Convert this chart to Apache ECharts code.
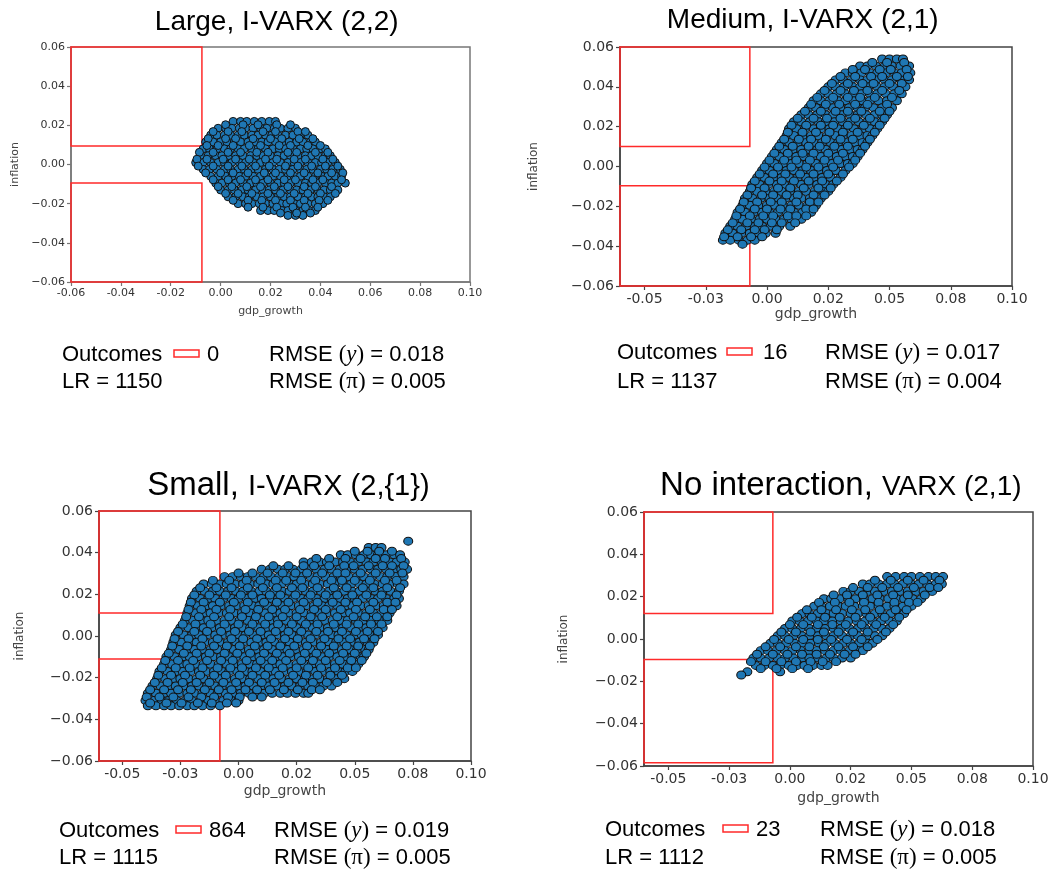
<!DOCTYPE html>
<html>
<head>
<meta charset="utf-8">
<script src="https://cdn.jsdelivr.net/npm/echarts@6/dist/echarts.min.js"></script>
<style>
  html, body { margin: 0; padding: 0; background: #fff; }
  #chart { width: 1054px; height: 873px; }
</style>
</head>
<body>
<div id="chart"></div>
<script>
// simulated outcomes: [inflation, [gdp_growth...]]
const largeRows = [
  [0.0220, [0.005, 0.008, 0.0105, 0.0135, 0.0165, 0.0195, 0.022]],
  [0.0185, [-0.001, 0.002, 0.0045, 0.0075, 0.010, 0.013, 0.016, 0.0185, 0.0215, 0.024, 0.027, 0.030]],
  [0.0150, [-0.004, -0.0015, 0.0015, 0.004, 0.007, 0.0095, 0.0125, 0.015, 0.018, 0.0205, 0.023, 0.026, 0.029, 0.032, 0.035]],
  [0.0115, [-0.006, -0.003, 0.000, 0.0025, 0.0055, 0.008, 0.011, 0.014, 0.0165, 0.019, 0.022, 0.025, 0.0275, 0.0305, 0.033, 0.036, 0.038]],
  [0.0080, [-0.007, -0.0045, -0.0015, 0.0015, 0.004, 0.007, 0.0095, 0.0125, 0.015, 0.018, 0.021, 0.0235, 0.026, 0.029, 0.032, 0.0345, 0.037, 0.040, 0.042]],
  [0.0045, [-0.008, -0.005, -0.002, 0.0005, 0.0035, 0.006, 0.009, 0.012, 0.0145, 0.017, 0.020, 0.023, 0.0255, 0.028, 0.031, 0.034, 0.0365, 0.039, 0.042, 0.044]],
  [0.0010, [-0.010, -0.007, -0.004, -0.001, 0.0015, 0.0045, 0.0075, 0.010, 0.013, 0.016, 0.0185, 0.021, 0.024, 0.027, 0.0295, 0.032, 0.035, 0.038, 0.0405, 0.043, 0.046]],
  [-0.0025, [-0.007, -0.0045, -0.0015, 0.0015, 0.004, 0.007, 0.0095, 0.0125, 0.015, 0.018, 0.021, 0.0235, 0.026, 0.029, 0.032, 0.0345, 0.037, 0.040, 0.0425, 0.045, 0.048]],
  [-0.0060, [-0.004, -0.001, 0.002, 0.0045, 0.0075, 0.010, 0.013, 0.016, 0.0185, 0.021, 0.024, 0.027, 0.0295, 0.032, 0.035, 0.038, 0.0405, 0.043, 0.046, 0.0485]],
  [-0.0095, [-0.002, 0.0005, 0.0035, 0.006, 0.009, 0.012, 0.0145, 0.017, 0.020, 0.023, 0.0255, 0.028, 0.031, 0.034, 0.0365, 0.039, 0.042, 0.0445, 0.047, 0.050]],
  [-0.0130, [0.000, 0.003, 0.0055, 0.0085, 0.011, 0.014, 0.017, 0.0195, 0.022, 0.025, 0.028, 0.0305, 0.033, 0.036, 0.039, 0.0415, 0.044, 0.047]],
  [-0.0165, [0.003, 0.006, 0.009, 0.0115, 0.0145, 0.017, 0.020, 0.023, 0.0255, 0.028, 0.031, 0.034, 0.0365, 0.039, 0.0415, 0.044]],
  [-0.0200, [0.007, 0.010, 0.0125, 0.0155, 0.018, 0.021, 0.024, 0.0265, 0.0295, 0.032, 0.035, 0.038, 0.041]],
  [-0.0235, [0.016, 0.019, 0.0215, 0.0245, 0.027, 0.030, 0.033, 0.0355, 0.038]],
  [-0.0260, [0.027, 0.030, 0.033]]
];
const largeRowsMid = [
  [0.0203, [0.002, 0.009, 0.015, 0.0225, 0.028]],
  [0.0168, [-0.003, 0.003, 0.0085, 0.017, 0.022, 0.031, 0.034]],
  [0.0132, [-0.005, 0.002, 0.006, 0.013, 0.020, 0.0245, 0.0315, 0.037]],
  [0.0097, [-0.0055, -0.001, 0.005, 0.0115, 0.016, 0.0235, 0.028, 0.035, 0.040]],
  [0.0062, [-0.0085, -0.003, 0.003, 0.008, 0.0145, 0.019, 0.027, 0.0305, 0.038, 0.043]],
  [0.0027, [-0.0095, -0.0055, 0.001, 0.006, 0.0115, 0.018, 0.0225, 0.0295, 0.034, 0.041, 0.045]],
  [-0.0008, [-0.009, -0.003, 0.003, 0.0085, 0.014, 0.0195, 0.026, 0.031, 0.0365, 0.042, 0.047]],
  [-0.0043, [-0.006, 0.000, 0.005, 0.011, 0.0175, 0.022, 0.028, 0.0335, 0.039, 0.0445, 0.049]],
  [-0.0078, [-0.003, 0.003, 0.008, 0.014, 0.019, 0.0255, 0.030, 0.037, 0.041, 0.0485]],
  [-0.0113, [-0.001, 0.0045, 0.0105, 0.016, 0.0215, 0.027, 0.0335, 0.038, 0.0445]],
  [-0.0148, [0.002, 0.007, 0.0125, 0.019, 0.024, 0.0295, 0.035, 0.040, 0.046]],
  [-0.0183, [0.005, 0.011, 0.0165, 0.022, 0.028, 0.0335, 0.0395, 0.043]],
  [-0.0218, [0.011, 0.017, 0.0225, 0.029, 0.034, 0.039]],
  [-0.0248, [0.024, 0.0305, 0.036]]
];

const mediumRows = [
  [0.0540, [0.047, 0.050, 0.053, 0.0555]],
  [0.0505, [0.038, 0.041, 0.0445, 0.048, 0.051, 0.0545, 0.058]],
  [0.0470, [0.032, 0.035, 0.0385, 0.042, 0.045, 0.0485, 0.052, 0.055, 0.0585]],
  [0.0435, [0.028, 0.031, 0.0345, 0.038, 0.041, 0.0445, 0.048, 0.051, 0.0545, 0.058]],
  [0.0400, [0.025, 0.028, 0.0315, 0.035, 0.038, 0.0415, 0.045, 0.048, 0.0515, 0.055, 0.0565]],
  [0.0365, [0.022, 0.025, 0.0285, 0.032, 0.035, 0.0385, 0.042, 0.045, 0.0485, 0.052, 0.055]],
  [0.0330, [0.019, 0.022, 0.0255, 0.029, 0.032, 0.0355, 0.039, 0.042, 0.0455, 0.049, 0.053]],
  [0.0295, [0.017, 0.020, 0.0235, 0.027, 0.030, 0.0335, 0.037, 0.040, 0.0435, 0.047, 0.051]],
  [0.0260, [0.014, 0.017, 0.0205, 0.024, 0.027, 0.0305, 0.034, 0.037, 0.0405, 0.044, 0.047, 0.049]],
  [0.0225, [0.011, 0.014, 0.0175, 0.021, 0.024, 0.0275, 0.031, 0.034, 0.0375, 0.041, 0.044, 0.047]],
  [0.0190, [0.009, 0.012, 0.0155, 0.019, 0.022, 0.0255, 0.029, 0.032, 0.0355, 0.039, 0.042, 0.045]],
  [0.0155, [0.008, 0.011, 0.0145, 0.018, 0.021, 0.0245, 0.028, 0.031, 0.0345, 0.038, 0.041, 0.043]],
  [0.0120, [0.006, 0.009, 0.0125, 0.016, 0.019, 0.0225, 0.026, 0.029, 0.0325, 0.036, 0.039, 0.041]],
  [0.0085, [0.004, 0.007, 0.0105, 0.014, 0.017, 0.0205, 0.024, 0.027, 0.0305, 0.034, 0.037, 0.039]],
  [0.0050, [0.002, 0.005, 0.0085, 0.012, 0.015, 0.0185, 0.022, 0.025, 0.0285, 0.032, 0.035, 0.037]],
  [0.0015, [0.000, 0.003, 0.0065, 0.010, 0.013, 0.0165, 0.020, 0.023, 0.0265, 0.030, 0.033, 0.035]],
  [-0.0020, [-0.002, 0.001, 0.0045, 0.008, 0.011, 0.0145, 0.018, 0.021, 0.0245, 0.028, 0.032]],
  [-0.0055, [-0.004, -0.001, 0.0025, 0.006, 0.009, 0.0125, 0.016, 0.019, 0.0225, 0.026, 0.030]],
  [-0.0090, [-0.006, -0.003, 0.0005, 0.004, 0.007, 0.0105, 0.014, 0.017, 0.0205, 0.024, 0.027]],
  [-0.0125, [-0.007, -0.004, -0.0005, 0.003, 0.006, 0.0095, 0.013, 0.016, 0.0195, 0.023, 0.025]],
  [-0.0160, [-0.009, -0.006, -0.0025, 0.001, 0.004, 0.0075, 0.011, 0.014, 0.0175, 0.022]],
  [-0.0195, [-0.010, -0.007, -0.0035, 0.000, 0.003, 0.0065, 0.010, 0.013, 0.0165, 0.020]],
  [-0.0230, [-0.012, -0.009, -0.0055, -0.002, 0.001, 0.0045, 0.008, 0.011, 0.0145, 0.018]],
  [-0.0265, [-0.013, -0.010, -0.0065, -0.003, 0.000, 0.0035, 0.007, 0.010, 0.014]],
  [-0.0300, [-0.015, -0.012, -0.0085, -0.005, -0.002, 0.0015, 0.005, 0.0095]],
  [-0.0335, [-0.017, -0.014, -0.0105, -0.007, -0.004, -0.0005, 0.0035]],
  [-0.0370, [-0.018, -0.015, -0.0115, -0.008, -0.005]],
  [-0.0390, [-0.010]]
];
const mediumRowsMid = [
  [0.0522, [0.043, 0.049, 0.056]],
  [0.0487, [0.035, 0.040, 0.046, 0.0505, 0.057]],
  [0.0452, [0.030, 0.036, 0.0425, 0.047, 0.053, 0.0575]],
  [0.0417, [0.0265, 0.033, 0.039, 0.0435, 0.050, 0.055]],
  [0.0382, [0.0235, 0.030, 0.0355, 0.041, 0.047, 0.054]],
  [0.0347, [0.0205, 0.027, 0.033, 0.038, 0.044, 0.051]],
  [0.0312, [0.018, 0.024, 0.0295, 0.036, 0.041, 0.049]],
  [0.0277, [0.0155, 0.022, 0.028, 0.033, 0.0385, 0.046, 0.050]],
  [0.0242, [0.0125, 0.019, 0.0245, 0.030, 0.036, 0.042, 0.048]],
  [0.0207, [0.010, 0.016, 0.022, 0.027, 0.033, 0.0395, 0.046]],
  [0.0172, [0.0085, 0.0145, 0.020, 0.0255, 0.031, 0.037, 0.044]],
  [0.0137, [0.007, 0.013, 0.018, 0.024, 0.030, 0.035, 0.042]],
  [0.0102, [0.005, 0.0105, 0.017, 0.0215, 0.0275, 0.033, 0.040]],
  [0.0067, [0.003, 0.0085, 0.0145, 0.019, 0.025, 0.031, 0.038]],
  [0.0032, [0.001, 0.007, 0.012, 0.0175, 0.0235, 0.029, 0.036]],
  [-0.0003, [-0.001, 0.0045, 0.010, 0.016, 0.021, 0.027, 0.0335]],
  [-0.0038, [-0.003, 0.0025, 0.0075, 0.0135, 0.019, 0.025, 0.031]],
  [-0.0073, [-0.005, 0.001, 0.006, 0.011, 0.017, 0.0225, 0.0285]],
  [-0.0108, [-0.0065, -0.001, 0.0045, 0.0095, 0.015, 0.021, 0.026]],
  [-0.0143, [-0.008, -0.002, 0.0025, 0.008, 0.0125, 0.019, 0.0235]],
  [-0.0178, [-0.0095, -0.004, 0.0015, 0.006, 0.012, 0.0175, 0.021]],
  [-0.0213, [-0.011, -0.005, 0.000, 0.0055, 0.0095, 0.016, 0.019]],
  [-0.0248, [-0.0125, -0.007, -0.0015, 0.0025, 0.0085, 0.012, 0.016]],
  [-0.0283, [-0.014, -0.008, -0.0035, 0.002, 0.006, 0.0115]],
  [-0.0318, [-0.016, -0.0105, -0.005, -0.001, 0.004]],
  [-0.0353, [-0.0175, -0.012, -0.0065, -0.002]]
];

const smallRows = [
  [0.0455, [0.073]],
  [0.0425, [0.056, 0.059, 0.0615]],
  [0.0390, [0.044, 0.047, 0.0505, 0.054, 0.057, 0.060, 0.0635, 0.067, 0.0695]],
  [0.0355, [0.028, 0.0315, 0.035, 0.038, 0.0415, 0.045, 0.048, 0.0515, 0.055, 0.058, 0.0615, 0.065, 0.068, 0.0715]],
  [0.0320, [0.010, 0.0135, 0.017, 0.020, 0.0235, 0.027, 0.030, 0.0335, 0.037, 0.040, 0.0435, 0.047, 0.050, 0.0535, 0.057, 0.060, 0.0635, 0.067, 0.070, 0.0725]],
  [0.0285, [-0.006, -0.0025, 0.001, 0.004, 0.0075, 0.011, 0.014, 0.0175, 0.021, 0.024, 0.0275, 0.031, 0.034, 0.0375, 0.041, 0.044, 0.0475, 0.051, 0.054, 0.0575, 0.061, 0.064, 0.0675, 0.071]],
  [0.0250, [-0.015, -0.0115, -0.008, -0.005, -0.0015, 0.002, 0.005, 0.0085, 0.012, 0.015, 0.0185, 0.022, 0.025, 0.0285, 0.032, 0.035, 0.0385, 0.042, 0.045, 0.0485, 0.052, 0.055, 0.0585, 0.062, 0.065, 0.0685, 0.071]],
  [0.0215, [-0.018, -0.0145, -0.011, -0.008, -0.0045, -0.001, 0.002, 0.0055, 0.009, 0.012, 0.0155, 0.019, 0.022, 0.0255, 0.029, 0.032, 0.0355, 0.039, 0.042, 0.0455, 0.049, 0.052, 0.0555, 0.059, 0.062, 0.0655, 0.069]],
  [0.0180, [-0.020, -0.0165, -0.013, -0.010, -0.0065, -0.003, 0.000, 0.0035, 0.007, 0.010, 0.0135, 0.017, 0.020, 0.0235, 0.027, 0.030, 0.0335, 0.037, 0.040, 0.0435, 0.047, 0.050, 0.0535, 0.057, 0.060, 0.0635, 0.067, 0.069]],
  [0.0145, [-0.021, -0.0175, -0.014, -0.011, -0.0075, -0.004, -0.001, 0.0025, 0.006, 0.009, 0.0125, 0.016, 0.019, 0.0225, 0.026, 0.029, 0.0325, 0.036, 0.039, 0.0425, 0.046, 0.049, 0.0525, 0.056, 0.059, 0.0625, 0.066, 0.068]],
  [0.0110, [-0.022, -0.0185, -0.015, -0.012, -0.0085, -0.005, -0.002, 0.0015, 0.005, 0.008, 0.0115, 0.015, 0.018, 0.0215, 0.025, 0.028, 0.0315, 0.035, 0.038, 0.0415, 0.045, 0.048, 0.0515, 0.055, 0.058, 0.0615, 0.065]],
  [0.0075, [-0.023, -0.0195, -0.016, -0.013, -0.0095, -0.006, -0.003, 0.0005, 0.004, 0.007, 0.0105, 0.014, 0.017, 0.0205, 0.024, 0.027, 0.0305, 0.034, 0.037, 0.0405, 0.044, 0.047, 0.0505, 0.054, 0.057, 0.0605, 0.064]],
  [0.0040, [-0.025, -0.0215, -0.018, -0.015, -0.0115, -0.008, -0.005, -0.0015, 0.002, 0.005, 0.0085, 0.012, 0.015, 0.0185, 0.022, 0.025, 0.0285, 0.032, 0.035, 0.0385, 0.042, 0.045, 0.0485, 0.052, 0.055, 0.0585, 0.062]],
  [0.0005, [-0.027, -0.0235, -0.020, -0.017, -0.0135, -0.010, -0.007, -0.0035, 0.000, 0.003, 0.0065, 0.010, 0.013, 0.0165, 0.020, 0.023, 0.0265, 0.030, 0.033, 0.0365, 0.040, 0.043, 0.0465, 0.050, 0.053, 0.0565, 0.060]],
  [-0.0030, [-0.028, -0.0245, -0.021, -0.018, -0.0145, -0.011, -0.008, -0.0045, -0.001, 0.002, 0.0055, 0.009, 0.012, 0.0155, 0.019, 0.022, 0.0255, 0.029, 0.032, 0.0355, 0.039, 0.042, 0.0455, 0.049, 0.052, 0.0555, 0.058]],
  [-0.0065, [-0.029, -0.0255, -0.022, -0.019, -0.0155, -0.012, -0.009, -0.0055, -0.002, 0.001, 0.0045, 0.008, 0.011, 0.0145, 0.018, 0.021, 0.0245, 0.028, 0.031, 0.0345, 0.038, 0.041, 0.0445, 0.048, 0.051, 0.0545, 0.056]],
  [-0.0100, [-0.031, -0.0275, -0.024, -0.021, -0.0175, -0.014, -0.011, -0.0075, -0.004, -0.001, 0.0025, 0.006, 0.009, 0.0125, 0.016, 0.019, 0.0225, 0.026, 0.029, 0.0325, 0.036, 0.039, 0.0425, 0.046, 0.049, 0.0525, 0.054]],
  [-0.0135, [-0.032, -0.0285, -0.025, -0.022, -0.0185, -0.015, -0.012, -0.0085, -0.005, -0.002, 0.0015, 0.005, 0.008, 0.0115, 0.015, 0.018, 0.0215, 0.025, 0.028, 0.0315, 0.035, 0.038, 0.0415, 0.045, 0.048, 0.0515]],
  [-0.0170, [-0.034, -0.0305, -0.027, -0.024, -0.0205, -0.017, -0.014, -0.0105, -0.007, -0.004, -0.0005, 0.003, 0.006, 0.0095, 0.013, 0.016, 0.0195, 0.023, 0.026, 0.0295, 0.033, 0.036, 0.0395, 0.043, 0.046, 0.049]],
  [-0.0205, [-0.035, -0.0315, -0.028, -0.025, -0.0215, -0.018, -0.015, -0.0115, -0.008, -0.005, -0.0015, 0.002, 0.005, 0.0085, 0.012, 0.015, 0.0185, 0.022, 0.025, 0.0285, 0.032, 0.035, 0.0385, 0.042, 0.0455]],
  [-0.0240, [-0.037, -0.0335, -0.030, -0.027, -0.0235, -0.020, -0.017, -0.0135, -0.010, -0.007, -0.0035, 0.000, 0.003, 0.0065, 0.010, 0.013, 0.0165, 0.020, 0.023, 0.0265, 0.030, 0.033, 0.0365, 0.040]],
  [-0.0275, [-0.039, -0.0355, -0.032, -0.029, -0.0255, -0.022, -0.019, -0.0155, -0.012, -0.009, -0.0055, -0.002, 0.001, 0.0045, 0.008, 0.011, 0.0145, 0.018, 0.021, 0.0245, 0.028, 0.030]],
  [-0.0310, [-0.040, -0.0365, -0.033, -0.030, -0.0265, -0.023, -0.020, -0.0165, -0.013, -0.010, -0.0065, -0.003, 0.000]],
  [-0.0335, [-0.039, -0.0355, -0.032, -0.029, -0.0255, -0.022, -0.019, -0.0155, -0.012, -0.008]]
];
const smallRowsMid = [
  [0.0407, [0.050, 0.0555, 0.0605, 0.066]],
  [0.0372, [0.0335, 0.039, 0.046, 0.0525, 0.059, 0.063, 0.070]],
  [0.0337, [0.015, 0.0215, 0.028, 0.0325, 0.039, 0.0455, 0.0495, 0.056, 0.062, 0.066, 0.071]],
  [0.0302, [0.000, 0.006, 0.0125, 0.019, 0.0245, 0.0295, 0.036, 0.0425, 0.046, 0.0525, 0.059, 0.065, 0.0705]],
  [0.0267, [-0.011, -0.004, 0.0035, 0.0095, 0.016, 0.0205, 0.027, 0.033, 0.040, 0.0445, 0.050, 0.0565, 0.063, 0.068]],
  [0.0232, [-0.0165, -0.0095, -0.003, 0.004, 0.0105, 0.0165, 0.023, 0.0275, 0.034, 0.041, 0.0465, 0.0535, 0.058, 0.064, 0.0695]],
  [0.0197, [-0.019, -0.0125, -0.0055, 0.001, 0.006, 0.0135, 0.018, 0.0245, 0.031, 0.0375, 0.0425, 0.049, 0.055, 0.0615, 0.068]],
  [0.0162, [-0.0205, -0.015, -0.008, -0.002, 0.004, 0.011, 0.0165, 0.0215, 0.028, 0.034, 0.0405, 0.046, 0.051, 0.058, 0.064, 0.0675]],
  [0.0127, [-0.0215, -0.016, -0.0095, -0.0035, 0.003, 0.0085, 0.0145, 0.020, 0.0265, 0.0325, 0.0375, 0.044, 0.0505, 0.0565, 0.0625, 0.066]],
  [0.0092, [-0.0225, -0.017, -0.0105, -0.004, 0.0015, 0.0075, 0.013, 0.019, 0.025, 0.031, 0.036, 0.0425, 0.0495, 0.0545, 0.0595, 0.064]],
  [0.0057, [-0.024, -0.0185, -0.012, -0.006, 0.000, 0.006, 0.0115, 0.017, 0.023, 0.029, 0.034, 0.041, 0.0465, 0.0515, 0.057, 0.0615]],
  [0.0022, [-0.026, -0.019, -0.0135, -0.0075, -0.0015, 0.0045, 0.0095, 0.016, 0.0215, 0.027, 0.0335, 0.0385, 0.0445, 0.0505, 0.0555, 0.060]],
  [-0.0013, [-0.0275, -0.0215, -0.0155, -0.009, -0.003, 0.002, 0.008, 0.014, 0.020, 0.0255, 0.031, 0.037, 0.043, 0.048, 0.054, 0.0585]],
  [-0.0048, [-0.0285, -0.022, -0.016, -0.0105, -0.005, 0.0005, 0.007, 0.0125, 0.018, 0.024, 0.0295, 0.0355, 0.041, 0.0465, 0.0515, 0.0565]],
  [-0.0083, [-0.030, -0.0235, -0.018, -0.0125, -0.006, -0.0005, 0.005, 0.011, 0.0165, 0.022, 0.0285, 0.0335, 0.039, 0.045, 0.050, 0.055]],
  [-0.0118, [-0.0315, -0.026, -0.0195, -0.0135, -0.0075, -0.0025, 0.0035, 0.0095, 0.0145, 0.0205, 0.027, 0.032, 0.0375, 0.0435, 0.0485, 0.053]],
  [-0.0153, [-0.033, -0.027, -0.021, -0.0155, -0.009, -0.0035, 0.0015, 0.0075, 0.013, 0.019, 0.025, 0.030, 0.0355, 0.0415, 0.047, 0.0505]],
  [-0.0188, [-0.0345, -0.029, -0.023, -0.0165, -0.0105, -0.0055, 0.0005, 0.006, 0.0115, 0.0175, 0.0235, 0.029, 0.034, 0.0395, 0.0445]],
  [-0.0223, [-0.036, -0.0305, -0.024, -0.018, -0.0125, -0.0065, -0.001, 0.0045, 0.010, 0.0155, 0.0215, 0.0275, 0.032, 0.038, 0.0425]],
  [-0.0258, [-0.038, -0.032, -0.026, -0.0205, -0.0145, -0.0085, -0.003, 0.003, 0.008, 0.0135, 0.0195, 0.0255, 0.0315, 0.035]],
  [-0.0293, [-0.0395, -0.034, -0.028, -0.0215, -0.016, -0.0105, -0.0045, 0.0005, 0.006, 0.010]],
  [-0.0322, [-0.038, -0.031, -0.0245, -0.0175, -0.0115, -0.005, -0.001]]
];

const noInteractionRows = [
  [0.0295, [0.040, 0.0435, 0.047, 0.050, 0.0535, 0.057, 0.060, 0.063]],
  [0.0260, [0.030, 0.033, 0.0365, 0.040, 0.043, 0.0465, 0.050, 0.053, 0.0565, 0.060, 0.0625]],
  [0.0225, [0.022, 0.025, 0.0285, 0.032, 0.035, 0.0385, 0.042, 0.045, 0.0485, 0.052, 0.055, 0.0585]],
  [0.0190, [0.014, 0.017, 0.0205, 0.024, 0.027, 0.0305, 0.034, 0.037, 0.0405, 0.044, 0.047, 0.0505, 0.054]],
  [0.0155, [0.010, 0.013, 0.0165, 0.020, 0.023, 0.0265, 0.030, 0.033, 0.0365, 0.040, 0.043, 0.0465, 0.050]],
  [0.0120, [0.005, 0.008, 0.0115, 0.015, 0.018, 0.0215, 0.025, 0.028, 0.0315, 0.035, 0.038, 0.0415, 0.045, 0.047]],
  [0.0085, [0.001, 0.004, 0.0075, 0.011, 0.014, 0.0175, 0.021, 0.024, 0.0275, 0.031, 0.034, 0.0375, 0.041, 0.044]],
  [0.0050, [-0.002, 0.001, 0.0045, 0.008, 0.011, 0.0145, 0.018, 0.021, 0.0245, 0.028, 0.031, 0.0345, 0.038, 0.041]],
  [0.0015, [-0.005, -0.002, 0.0015, 0.005, 0.008, 0.0115, 0.015, 0.018, 0.0215, 0.025, 0.028, 0.0315, 0.035, 0.038]],
  [-0.0020, [-0.008, -0.005, -0.0015, 0.002, 0.005, 0.0085, 0.012, 0.015, 0.0185, 0.022, 0.025, 0.0285, 0.032, 0.034]],
  [-0.0055, [-0.012, -0.009, -0.0055, -0.002, 0.001, 0.0045, 0.008, 0.011, 0.0145, 0.018, 0.021, 0.0245, 0.028, 0.030]],
  [-0.0090, [-0.015, -0.012, -0.0085, -0.005, -0.002, 0.0015, 0.005, 0.008, 0.0115, 0.015, 0.018, 0.0215, 0.025]],
  [-0.0125, [-0.014, -0.0105, -0.007, -0.004, -0.0005, 0.003, 0.006, 0.0095, 0.013, 0.0155]],
  [-0.0155, [-0.0175, -0.004]],
  [-0.0170, [-0.020]]
];
const noInteractionRowsMid = [
  [0.0278, [0.035, 0.0415, 0.0485, 0.055, 0.0615]],
  [0.0243, [0.026, 0.032, 0.038, 0.0445, 0.051, 0.0575, 0.061]],
  [0.0208, [0.018, 0.0235, 0.030, 0.036, 0.0425, 0.0485, 0.0555]],
  [0.0173, [0.012, 0.0185, 0.0245, 0.0305, 0.0365, 0.043, 0.049, 0.0525]],
  [0.0138, [0.007, 0.013, 0.019, 0.0255, 0.031, 0.037, 0.0435, 0.048]],
  [0.0103, [0.003, 0.009, 0.0145, 0.0205, 0.027, 0.033, 0.039, 0.045]],
  [0.0068, [0.000, 0.0055, 0.0115, 0.0175, 0.023, 0.0295, 0.0355, 0.0425]],
  [0.0033, [-0.0035, 0.0025, 0.0085, 0.014, 0.020, 0.026, 0.032, 0.0395]],
  [-0.0002, [-0.0065, -0.0005, 0.0055, 0.0115, 0.017, 0.0235, 0.0295, 0.036]],
  [-0.0037, [-0.010, -0.004, 0.0025, 0.008, 0.014, 0.020, 0.026, 0.032]],
  [-0.0072, [-0.0135, -0.007, -0.001, 0.005, 0.011, 0.0165, 0.0225, 0.027]],
  [-0.0107, [-0.016, -0.010, -0.0035, 0.0025, 0.0085, 0.0135, 0.019]],
  [-0.0140, [-0.012, -0.0055, 0.001, 0.0075]]
];

// threshold boxes drawn in red: [gdp from, inflation from, gdp to, inflation to]
const largeBoxes = [[-0.06, 0.0095, -0.0075, 0.06], [-0.06, -0.06, -0.0075, -0.0095]];
const mediumBoxes = [[-0.0605, 0.010, -0.007, 0.06], [-0.0605, -0.06, -0.007, -0.0097]];
const smallBoxes = [[-0.06, 0.011, -0.008, 0.06], [-0.06, -0.0605, -0.008, -0.011]];
const noInteractionBoxes = [[-0.06, 0.012, -0.007, 0.06], [-0.06, -0.0585, -0.007, -0.0097]];

const yTicks = [-0.06, -0.04, -0.02, 0.00, 0.02, 0.04, 0.06];
const yTickLabels = ['\u22120.06', '\u22120.04', '\u22120.02', '0.00', '0.02', '0.04', '0.06'];
const xTicksLarge = [-0.06, -0.04, -0.02, 0.00, 0.02, 0.04, 0.06, 0.08, 0.10];
const xTickLabelsLarge = ['-0.06', '-0.04', '-0.02', '0.00', '0.02', '0.04', '0.06', '0.08', '0.10'];
const xTicks = [-0.05, -0.025, 0.00, 0.025, 0.05, 0.075, 0.10];
const xTickLabels = ['-0.05', '-0.03', '0.00', '0.02', '0.05', '0.08', '0.10'];

const titleLead = ['Large, ', 'Medium, ', 'Small, ', 'No interaction, '];
const titleModel = ['I-VARX (2,2)', 'I-VARX (2,1)', 'I-VARX (2,{1})', 'VARX (2,1)'];
const outcomes = [0, 16, 864, 23];
const lrValues = [1150, 1137, 1115, 1112];
const rmseY = ['0.018', '0.017', '0.019', '0.018'];
const rmsePi = ['0.005', '0.004', '0.005', '0.005'];

const cloudRows = [largeRows.concat(largeRowsMid), mediumRows.concat(mediumRowsMid),
  smallRows.concat(smallRowsMid), noInteractionRows.concat(noInteractionRowsMid)];
const boxes = [largeBoxes, mediumBoxes, smallBoxes, noInteractionBoxes];

// layout of the four panels (pixels)
const panels = [
  { grid: { left: 71, top: 47, width: 399, height: 235 }, xMin: -0.06, frame: '#777', tickFont: 11, nameFont: 11,
    xNameGap: 24, yNameGap: 50, sym: [8, 8], title: { split: 242, y: 22, lead: 28, model: 28 },
    stats: { x: 62, y1: 355, y2: 382, rectX: 174, numX: 207, rmseX: 269 } },
  { grid: { left: 620, top: 47, width: 392, height: 239 }, xMin: -0.06, frame: '#444', tickFont: 14, nameFont: 14,
    xNameGap: 21, yNameGap: 80, sym: [9, 8], title: { split: 782, y: 20, lead: 28, model: 28 },
    stats: { x: 617, y1: 353, y2: 382, rectX: 727, numX: 763, rmseX: 825 } },
  { grid: { left: 99, top: 511, width: 372, height: 250 }, xMin: -0.06, frame: '#444', tickFont: 14, nameFont: 14,
    xNameGap: 23, yNameGap: 73, sym: [9, 8], title: { split: 248, y: 486, lead: 33, model: 29 },
    stats: { x: 59, y1: 831, y2: 858, rectX: 176, numX: 209, rmseX: 274 } },
  { grid: { left: 644, top: 512, width: 389, height: 254 }, xMin: -0.06, frame: '#444', tickFont: 14, nameFont: 14,
    xNameGap: 25, yNameGap: 74, sym: [9, 8], title: { split: 882, y: 486, lead: 33, model: 28 },
    stats: { x: 605, y1: 830, y2: 858, rectX: 723, numX: 756, rmseX: 820 } }
];

const ellipse = 'path://M0,5A5,5,0,1,1,10,5A5,5,0,1,1,0,5Z';
const tickFont = 'DejaVu Sans';
const textFont = '"Liberation Sans", Arial, sans-serif';
const serifFont = '"Liberation Serif", "Times New Roman", serif';

function lookup(ticks, labels) {
  return function (v) {
    const i = ticks.findIndex(t => Math.abs(t - v) < 1e-9);
    return i >= 0 ? labels[i] : '';
  };
}

const chart = echarts.init(document.getElementById('chart'), null, { renderer: 'canvas' });

const grid = [], xAxis = [], yAxis = [], series = [], graphic = [];

panels.forEach((p, i) => {
  grid.push(Object.assign({ show: true, borderColor: p.frame, borderWidth: 1.5, backgroundColor: '#fff' }, p.grid));

  const wide = i === 0;
  xAxis.push({
    type: 'value', gridIndex: i, min: p.xMin, max: 0.10,
    interval: wide ? 0.02 : undefined,
    name: 'gdp_growth', nameLocation: 'middle', nameGap: p.xNameGap,
    nameTextStyle: { fontFamily: tickFont, fontSize: p.nameFont, color: '#444' },
    axisLine: { show: true, onZero: false, lineStyle: { color: p.frame, width: 1.5 } },
    axisTick: { show: true, length: 4, lineStyle: { color: p.frame, width: 1.2 },
      customValues: wide ? undefined : xTicks },
    axisLabel: { fontFamily: tickFont, fontSize: p.tickFont, color: '#333', margin: 6,
      customValues: wide ? undefined : xTicks,
      formatter: wide ? lookup(xTicksLarge, xTickLabelsLarge) : lookup(xTicks, xTickLabels) },
    splitLine: { show: false }
  });
  yAxis.push({
    type: 'value', gridIndex: i, min: -0.06, max: 0.06, interval: 0.02,
    name: 'inflation', nameLocation: 'middle', nameGap: p.yNameGap, nameRotate: 90,
    nameTextStyle: { fontFamily: tickFont, fontSize: wide ? 11 : 12, color: '#444' },
    axisLine: { show: true, onZero: false, lineStyle: { color: p.frame, width: 1.5 } },
    axisTick: { show: true, length: 4, lineStyle: { color: p.frame, width: 1.2 } },
    axisLabel: { fontFamily: tickFont, fontSize: p.tickFont, color: '#333', margin: 6,
      formatter: lookup(yTicks, yTickLabels) },
    splitLine: { show: false }
  });

  // red boxes sit under the cloud
  series.push({
    type: 'scatter', xAxisIndex: i, yAxisIndex: i, z: 1, data: [], silent: true,
    markArea: {
      silent: true,
      itemStyle: { color: 'rgba(0,0,0,0)', borderColor: '#ff2a2a', borderWidth: 1.5 },
      data: boxes[i].map(b => [{ coord: [b[0], b[1]] }, { coord: [b[2], b[3]] }])
    }
  });

  const pts = [];
  cloudRows[i].forEach(([infl, gdps]) => gdps.forEach(g => pts.push([g, infl])));
  series.push({
    type: 'scatter', xAxisIndex: i, yAxisIndex: i, z: 5,
    symbol: ellipse, symbolSize: p.sym,
    itemStyle: { color: '#1f77b4', borderColor: '#111', borderWidth: 1, opacity: 1 },
    data: pts
  });

  // panel title: lead part and model part
  const t = p.title;
  graphic.push({
    type: 'text', x: t.split, y: t.y,
    style: { text: titleLead[i], fontFamily: textFont, fontSize: t.lead, fill: '#000',
      align: 'right', verticalAlign: 'middle', textAlign: 'right', textVerticalAlign: 'middle' }
  });
  graphic.push({
    type: 'text', x: t.split, y: t.y + (t.lead - t.model) * 0.3,
    style: { text: titleModel[i], fontFamily: textFont, fontSize: t.model, fill: '#000',
      align: 'left', verticalAlign: 'middle', textAlign: 'left', textVerticalAlign: 'middle' }
  });

  // statistics under the panel
  const s = p.stats;
  const rich = {
    t: { fontFamily: textFont, fontSize: 22, fill: '#000' },
    s: { fontFamily: serifFont, fontSize: 23, fill: '#000' },
    i: { fontFamily: serifFont, fontSize: 23, fontStyle: 'italic', fill: '#000' }
  };
  const line = (x, y, text) => ({
    type: 'text', x: x, y: y,
    style: { text: text, align: 'left', verticalAlign: 'middle', textAlign: 'left', textVerticalAlign: 'middle', rich: rich }
  });
  graphic.push(line(s.x, s.y1, '{t|Outcomes}'));
  graphic.push({
    type: 'rect', shape: { x: s.rectX, y: s.y1 - 5, width: 25, height: 7 },
    style: { fill: '#fff', stroke: '#ff2a2a', lineWidth: 1.5 }
  });
  graphic.push(line(s.numX, s.y1, '{t|' + outcomes[i] + '}'));
  graphic.push(line(s.rmseX, s.y1, '{t|RMSE }{s|(}{i|y}{s|)}{t| = ' + rmseY[i] + '}'));
  graphic.push(line(s.x, s.y2, '{t|LR = ' + lrValues[i] + '}'));
  graphic.push(line(s.rmseX, s.y2, '{t|RMSE }{s|(\u03c0)}{t| = ' + rmsePi[i] + '}'));
});

chart.setOption({
  animation: false,
  backgroundColor: '#fff',
  grid: grid,
  xAxis: xAxis,
  yAxis: yAxis,
  series: series,
  graphic: graphic
});
</script>
</body>
</html>
